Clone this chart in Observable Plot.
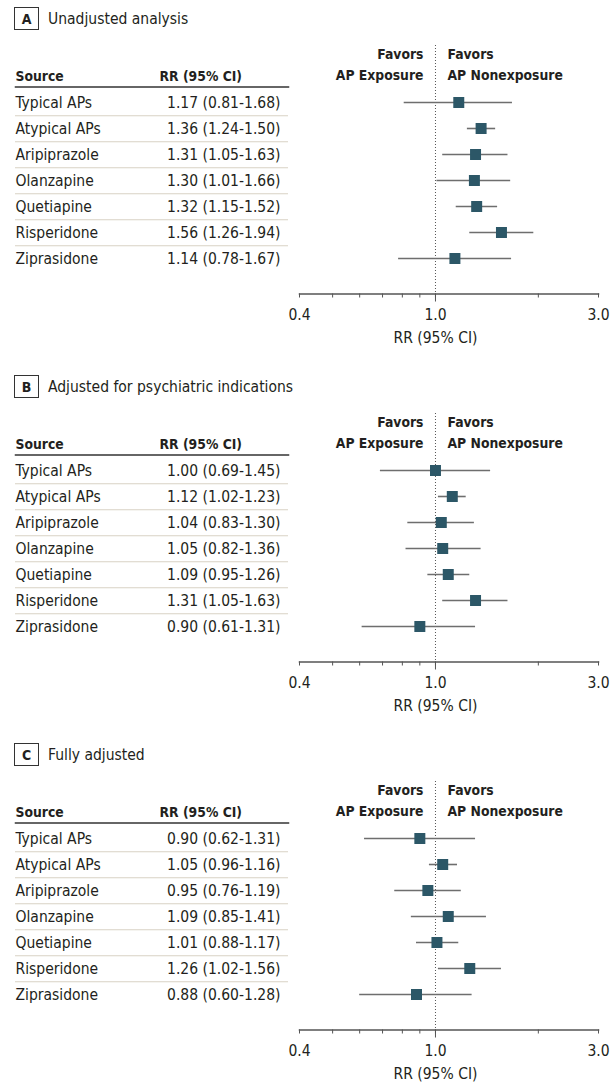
<!DOCTYPE html>
<html>
<head>
<meta charset="utf-8">
<script src="https://cdn.jsdelivr.net/npm/d3@7"></script>
<script src="https://cdn.jsdelivr.net/npm/@observablehq/plot@0.6"></script>
<style>
  html, body { margin: 0; padding: 0; background: #fff; overflow: hidden; }
  body { width: 611px; font-family: "DejaVu Sans Condensed", "DejaVu Sans", sans-serif; color: #231f20; }
  .panel { position: relative; width: 611px; height: 368px; }
  .panel svg { position: absolute; left: 0; top: 0; }
  .hdr { position: absolute; left: 14px; top: 7px; height: 23px; display: flex; align-items: center; font-size: 15.5px; }
  .box { box-sizing: border-box; width: 25px; height: 23px; border: 1px solid #333; display: flex; align-items: center; justify-content: center; font-weight: bold; font-size: 14px; margin-right: 9px; }
</style>
</head>
<body>
<div id="root"></div>
<script>
const sources = ["Typical APs", "Atypical APs", "Aripiprazole", "Olanzapine", "Quetiapine", "Risperidone", "Ziprasidone"];
const panelLetters = ["A", "B", "C"];
const panelTitles = ["Unadjusted analysis", "Adjusted for psychiatric indications", "Fully adjusted"];

const rrA = [1.17, 1.36, 1.31, 1.30, 1.32, 1.56, 1.14];
const loA = [0.81, 1.24, 1.05, 1.01, 1.15, 1.26, 0.78];
const hiA = [1.68, 1.50, 1.63, 1.66, 1.52, 1.94, 1.67];

const rrB = [1.00, 1.12, 1.04, 1.05, 1.09, 1.31, 0.90];
const loB = [0.69, 1.02, 0.83, 0.82, 0.95, 1.05, 0.61];
const hiB = [1.45, 1.23, 1.30, 1.36, 1.26, 1.63, 1.31];

const rrC = [0.90, 1.05, 0.95, 1.09, 1.01, 1.26, 0.88];
const loC = [0.62, 0.96, 0.76, 0.85, 0.88, 1.02, 0.60];
const hiC = [1.31, 1.16, 1.19, 1.41, 1.17, 1.56, 1.28];

const xDomain = [0.4, 3.0];
const tickValues = [0.4, 0.5, 0.6, 0.7, 0.8, 0.9, 1.0, 2.0, 3.0];
const tickLabels = [0.4, 1.0, 3.0];
const favorsLeft = ["Favors", "AP Exposure"];
const favorsRight = ["Favors", "AP Nonexposure"];
const colHeaders = ["Source", "RR (95% CI)"];
const axisTitle = "RR (95% CI)";

const series = [[rrA, loA, hiA], [rrB, loB, hiB], [rrC, loC, hiC]];

const FONT = '"DejaVu Sans Condensed", "DejaVu Sans", sans-serif';
const TXT = "#231f20";
const FS = 15.5;
const FSB = 13.8;
const H = 368;
const rowRange = [100, 259];

const root = document.getElementById("root");

series.forEach(([rr, lo, hi], p) => {
  const rows = sources.map((name, i) => ({
    name, rr: rr[i], lo: lo[i], hi: hi[i],
    label: `${rr[i].toFixed(2)} (${lo[i].toFixed(2)}-${hi[i].toFixed(2)})`
  }));

  const panel = document.createElement("div");
  panel.className = "panel";

  // Table part
  const table = Plot.plot({
    width: 300,
    height: H,
    marginLeft: 15,
    marginRight: 12,
    marginTop: 86.5,
    marginBottom: 60,
    style: { fontFamily: FONT, fontSize: FS + "px", color: TXT, background: "transparent", overflow: "visible" },
    x: { axis: null, domain: [0, 1] },
    y: { axis: null, type: "point", domain: sources, range: rowRange, padding: 0 },
    marks: [
      Plot.frame({ anchor: "top", stroke: "#333", strokeWidth: 1.5 }),
      Plot.ruleY(rows.slice(0, -1), { y: "name", dy: 13.25, stroke: "#d8d2c4", strokeWidth: 1 }),
      Plot.text([colHeaders[0]], { frameAnchor: "top-left", lineAnchor: "middle", dy: -10.5, textAnchor: "start", fontWeight: "bold", fontSize: FSB, fill: TXT }),
      Plot.text([colHeaders[1]], { frameAnchor: "top-left", lineAnchor: "middle", dx: 144, dy: -10.5, textAnchor: "start", fontWeight: "bold", fontSize: FSB, fill: TXT }),
      Plot.text(rows, { y: "name", text: "name", frameAnchor: "left", textAnchor: "start", dy: 1, fontSize: FS, fill: TXT }),
      Plot.text(rows, { y: "name", text: "label", frameAnchor: "right", textAnchor: "end", dx: -8, dy: 1, fontSize: FS, fill: TXT })
    ]
  });

  // Forest part
  const forest = Plot.plot({
    width: 611,
    height: H,
    marginLeft: 299,
    marginRight: 13,
    marginTop: 45,
    marginBottom: 74.5,
    style: { fontFamily: FONT, fontSize: FS + "px", color: TXT, background: "transparent", overflow: "visible" },
    x: { type: "log", domain: xDomain },
    y: { axis: null, type: "point", domain: sources, range: rowRange, padding: 0 },
    marks: [
      Plot.ruleX([1], { stroke: "#555", strokeWidth: 1, strokeDasharray: "1,2" }),
      Plot.frame({ anchor: "bottom", stroke: "#555", strokeWidth: 1.5 }),
      Plot.axisX({ ticks: tickValues, tickSize: 4, tickPadding: 11, stroke: "#555", fill: TXT, fontSize: FS,
        tickFormat: d => tickLabels.includes(d) ? d.toFixed(1) : "", label: null }),
      Plot.axisX({ ticks: [1], tickSize: 8, stroke: "#555", tickFormat: () => "", label: null }),
      Plot.text([axisTitle], { x: 1, frameAnchor: "bottom", lineAnchor: "middle", dy: 44, fontSize: FS, fill: TXT }),
      Plot.text([favorsLeft[0]], { x: 1, frameAnchor: "top", lineAnchor: "middle", dx: -12, dy: 9, textAnchor: "end", fontWeight: "bold", fontSize: FSB, fill: TXT }),
      Plot.text([favorsLeft[1]], { x: 1, frameAnchor: "top", lineAnchor: "middle", dx: -12, dy: 30, textAnchor: "end", fontWeight: "bold", fontSize: FSB, fill: TXT }),
      Plot.text([favorsRight[0]], { x: 1, frameAnchor: "top", lineAnchor: "middle", dx: 12, dy: 9, textAnchor: "start", fontWeight: "bold", fontSize: FSB, fill: TXT }),
      Plot.text([favorsRight[1]], { x: 1, frameAnchor: "top", lineAnchor: "middle", dx: 12, dy: 30, textAnchor: "start", fontWeight: "bold", fontSize: FSB, fill: TXT }),
      Plot.ruleY(rows, { y: "name", x1: "lo", x2: "hi", stroke: "#6e6e6e", strokeWidth: 1.6 }),
      Plot.dot(rows, { x: "rr", y: "name", symbol: "square", r: 6.2, fill: "#2c5767", stroke: "none" })
    ]
  });

  const hdr = document.createElement("div");
  hdr.className = "hdr";
  const box = document.createElement("div");
  box.className = "box";
  box.textContent = panelLetters[p];
  const title = document.createElement("span");
  title.textContent = panelTitles[p];
  hdr.appendChild(box);
  hdr.appendChild(title);

  panel.appendChild(table);
  panel.appendChild(forest);
  panel.appendChild(hdr);
  root.appendChild(panel);
});
</script>
</body>
</html>
